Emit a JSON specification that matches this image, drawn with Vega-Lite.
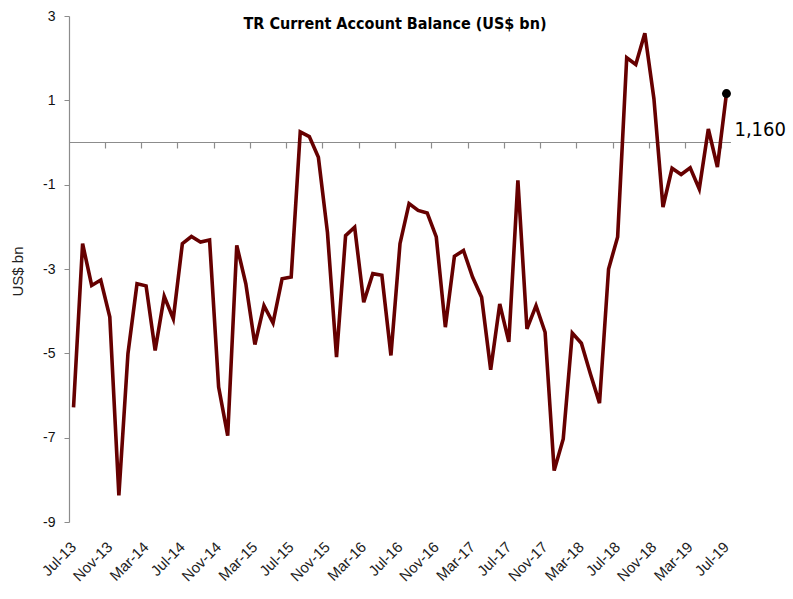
{
  "$schema": "https://vega.github.io/schema/vega-lite/v6.json",
  "width": 662,
  "height": 506,
  "autosize": "none",
  "padding": {"left": 69, "top": 16, "right": 62, "bottom": 77},
  "background": "white",
  "config": {"view": {"stroke": null}, "font": "Liberation Sans"},
  "title": {
    "text": "TR Current Account Balance (US$ bn)",
    "font": "DejaVu Sans Condensed, Liberation Sans",
    "fontSize": 16,
    "fontWeight": "bold",
    "color": "#000000",
    "offset": -23,
    "dx": -5,
    "anchor": "middle"
  },
  "data": {
    "values": [
      {"m": "Jul-13", "v": -6.28}, {"m": "Aug-13", "v": -2.40}, {"m": "Sep-13", "v": -3.39}, {"m": "Oct-13", "v": -3.26},
      {"m": "Nov-13", "v": -4.14}, {"m": "Dec-13", "v": -8.37}, {"m": "Jan-14", "v": -5.01}, {"m": "Feb-14", "v": -3.35},
      {"m": "Mar-14", "v": -3.40}, {"m": "Apr-14", "v": -4.93}, {"m": "May-14", "v": -3.65}, {"m": "Jun-14", "v": -4.18},
      {"m": "Jul-14", "v": -2.40}, {"m": "Aug-14", "v": -2.23}, {"m": "Sep-14", "v": -2.36}, {"m": "Oct-14", "v": -2.31},
      {"m": "Nov-14", "v": -5.80}, {"m": "Dec-14", "v": -6.95}, {"m": "Jan-15", "v": -2.44}, {"m": "Feb-15", "v": -3.35},
      {"m": "Mar-15", "v": -4.79}, {"m": "Apr-15", "v": -3.87}, {"m": "May-15", "v": -4.28}, {"m": "Jun-15", "v": -3.23},
      {"m": "Jul-15", "v": -3.19}, {"m": "Aug-15", "v": 0.25}, {"m": "Sep-15", "v": 0.14}, {"m": "Oct-15", "v": -0.35},
      {"m": "Nov-15", "v": -2.13}, {"m": "Dec-15", "v": -5.09}, {"m": "Jan-16", "v": -2.21}, {"m": "Feb-16", "v": -2.01},
      {"m": "Mar-16", "v": -3.79}, {"m": "Apr-16", "v": -3.11}, {"m": "May-16", "v": -3.15}, {"m": "Jun-16", "v": -5.05},
      {"m": "Jul-16", "v": -2.40}, {"m": "Aug-16", "v": -1.45}, {"m": "Sep-16", "v": -1.61}, {"m": "Oct-16", "v": -1.67},
      {"m": "Nov-16", "v": -2.24}, {"m": "Dec-16", "v": -4.38}, {"m": "Jan-17", "v": -2.70}, {"m": "Feb-17", "v": -2.56},
      {"m": "Mar-17", "v": -3.19}, {"m": "Apr-17", "v": -3.67}, {"m": "May-17", "v": -5.39}, {"m": "Jun-17", "v": -3.83},
      {"m": "Jul-17", "v": -4.73}, {"m": "Aug-17", "v": -0.90}, {"m": "Sep-17", "v": -4.42}, {"m": "Oct-17", "v": -3.87},
      {"m": "Nov-17", "v": -4.50}, {"m": "Dec-17", "v": -7.78}, {"m": "Jan-18", "v": -7.03}, {"m": "Feb-18", "v": -4.52},
      {"m": "Mar-18", "v": -4.76}, {"m": "Apr-18", "v": -5.49}, {"m": "May-18", "v": -6.18}, {"m": "Jun-18", "v": -3.00},
      {"m": "Jul-18", "v": -2.24}, {"m": "Aug-18", "v": 2.01}, {"m": "Sep-18", "v": 1.85}, {"m": "Oct-18", "v": 2.59},
      {"m": "Nov-18", "v": 1.04}, {"m": "Dec-18", "v": -1.53}, {"m": "Jan-19", "v": -0.61}, {"m": "Feb-19", "v": -0.76},
      {"m": "Mar-19", "v": -0.60}, {"m": "Apr-19", "v": -1.10}, {"m": "May-19", "v": 0.32}, {"m": "Jun-19", "v": -0.58},
      {"m": "Jul-19", "v": 1.16, "label": "1,160"}
    ]
  },
  "resolve": {"axis": {"x": "independent"}},
  "layer": [
    {
      "mark": {"type": "rule", "color": "#8c8c8c", "strokeWidth": 1.2},
      "encoding": {"y": {"datum": 0, "type": "quantitative", "scale": {"domain": [-9, 3], "nice": false, "zero": false}}}
    },
    {
      "mark": {"type": "line", "color": "#660000", "strokeWidth": 3.6, "strokeJoin": "miter"},
      "encoding": {
        "x": {
          "field": "m", "type": "ordinal", "sort": null, "bandPosition": 0.5,
          "scale": {"type": "band", "paddingInner": 0, "paddingOuter": 0},
          "axis": {
            "title": null,
            "values": ["Jul-13", "Nov-13", "Mar-14", "Jul-14", "Nov-14", "Mar-15", "Jul-15", "Nov-15", "Mar-16", "Jul-16", "Nov-16", "Mar-17", "Jul-17", "Nov-17", "Mar-18", "Jul-18", "Nov-18", "Mar-19", "Jul-19"],
            "labelAngle": -45,
            "labelAlign": "right",
            "labelBaseline": "middle",
            "labelFontSize": 15,
            "labelColor": "#222222",
            "labelPadding": 22,
            "ticks": false,
            "domain": false,
            "grid": false
          }
        },
        "y": {
          "field": "v", "type": "quantitative",
          "scale": {"domain": [-9, 3], "nice": false, "zero": false},
          "axis": {
            "title": "US$ bn",
            "titleFontSize": 15,
            "titleFontWeight": "normal",
            "titleColor": "#222222",
            "titleX": -52,
            "titleY": 255,
            "titleAngle": -90,
            "titleAlign": "center",
            "titleBaseline": "middle",
            "values": [-9, -7, -5, -3, -1, 1, 3],
            "labelExpr": "toString(datum.value)",
            "labelFontSize": 14,
            "labelColor": "#111111",
            "labelPadding": 9,
            "tickSize": 5,
            "tickColor": "#8c8c8c",
            "domainColor": "#8c8c8c",
            "domainWidth": 1.2,
            "gridColor": "#eeeeee",
            "gridWidth": 1.5
          }
        }
      }
    },
    {
      "transform": [{"filter": "datum.m == 'Jul-19'"}],
      "mark": {"type": "circle", "color": "#000000", "size": 80, "opacity": 1},
      "encoding": {
        "x": {
          "field": "m", "type": "ordinal", "sort": null, "bandPosition": 0.5,
          "scale": {"type": "band", "paddingInner": 0, "paddingOuter": 0},
          "axis": {
            "title": null,
            "orient": "top",
            "bandPosition": 0,
            "values": ["Nov-13", "Mar-14", "Jul-14", "Nov-14", "Mar-15", "Jul-15", "Nov-15", "Mar-16", "Jul-16", "Nov-16", "Mar-17", "Jul-17", "Nov-17", "Mar-18", "Jul-18", "Nov-18", "Mar-19", "Jul-19"],
            "labels": false,
            "domain": false,
            "grid": false,
            "ticks": true,
            "tickSize": 6,
            "tickColor": "#8c8c8c",
            "tickWidth": 1.2,
            "offset": -132
          }
        },
        "y": {"field": "v", "type": "quantitative"}
      }
    },
    {
      "transform": [{"filter": "datum.m == 'Jul-19'"}],
      "mark": {"type": "text", "align": "left", "baseline": "middle", "dx": 8, "dy": 36, "fontSize": 20, "font": "DejaVu Sans Condensed, Liberation Sans", "color": "#000000"},
      "encoding": {
        "x": {"field": "m", "type": "ordinal", "sort": null, "bandPosition": 0.5, "scale": {"type": "band", "paddingInner": 0, "paddingOuter": 0}, "axis": null},
        "y": {"field": "v", "type": "quantitative"},
        "text": {"field": "label"}
      }
    }
  ]
}
